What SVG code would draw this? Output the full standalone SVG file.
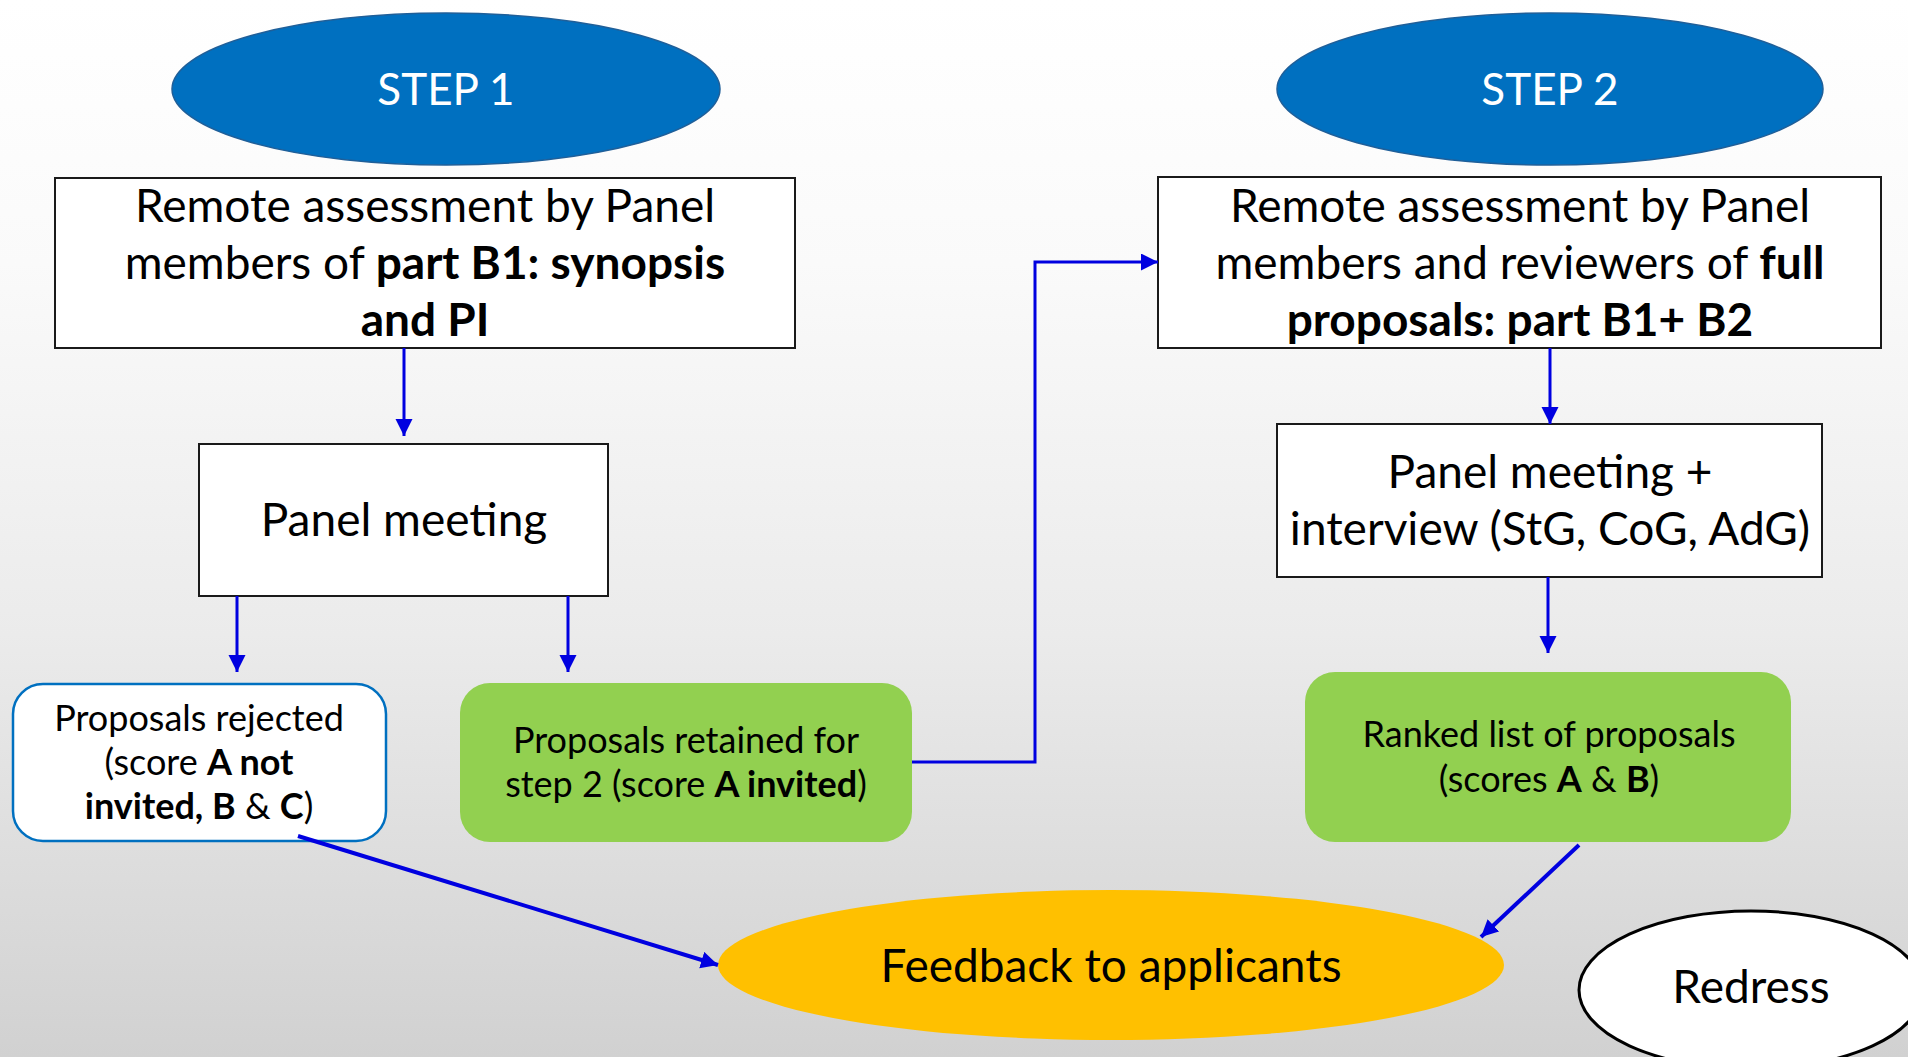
<svg xmlns="http://www.w3.org/2000/svg" width="1908" height="1057" viewBox="0 0 1908 1057">
<defs>
<linearGradient id="bg" x1="0" y1="0" x2="0" y2="1">
<stop offset="0" stop-color="#ffffff"/>
<stop offset="0.25" stop-color="#fafafa"/>
<stop offset="0.6" stop-color="#ebebeb"/>
<stop offset="1" stop-color="#d1d1d1"/>
</linearGradient>
<marker id="ah" markerUnits="userSpaceOnUse" markerWidth="20" markerHeight="20" refX="17" refY="8.5" orient="auto">
<path d="M0,0 L17,8.5 L0,17 Z" fill="#0000E0"/>
</marker>
</defs>
<style>
text{font-family:Lato,"Source Sans Pro","Noto Sans",sans-serif;fill:#000;text-anchor:middle}
.b{font-weight:bold}
.big{font-size:46px}
.sm{font-size:36px}
.step{font-size:44px;fill:#fff}
.box{fill:#fff;stroke:#1a1a1a;stroke-width:2}
.green{fill:#92D050}
.conn{fill:none;stroke:#0000E0;stroke-width:3;marker-end:url(#ah)}
.diag{stroke-width:4}
</style>
<rect x="0" y="0" width="1908" height="1057" fill="url(#bg)"/>

<g id="step1">
<ellipse cx="446" cy="89" rx="274" ry="76" fill="#0070C0" stroke="#1F5F99" stroke-width="1.5"/>
<text class="step" x="446" y="105">STEP 1</text>
</g>
<g id="step2">
<ellipse cx="1550" cy="89" rx="273" ry="76" fill="#0070C0" stroke="#1F5F99" stroke-width="1.5"/>
<text class="step" x="1550" y="105">STEP 2</text>
</g>

<g id="remote1">
<rect class="box" x="55" y="178" width="740" height="170"/>
<text class="big" x="425" y="222">Remote assessment by Panel</text>
<text class="big" x="425" y="279">members of <tspan class="b">part B1: synopsis</tspan></text>
<text class="big b" x="425" y="336">and PI</text>
</g>

<g id="remote2">
<rect class="box" x="1158" y="177" width="723" height="171"/>
<text class="big" x="1520" y="222">Remote assessment by Panel</text>
<text class="big" x="1520" y="279">members and reviewers of <tspan class="b">full</tspan></text>
<text class="big b" x="1520" y="336">proposals: part B1+ B2</text>
</g>

<g id="panel1">
<rect class="box" x="199" y="444" width="409" height="152"/>
<text class="big" x="404" y="536">Panel meeting</text>
</g>

<g id="panel2">
<rect class="box" x="1277" y="424" width="545" height="153"/>
<text class="big" x="1550" y="488">Panel meeting +</text>
<text class="big" x="1550" y="545">interview (StG, CoG, AdG)</text>
</g>

<g id="rejected">
<rect x="13" y="684" width="373" height="157" rx="30" fill="#fff" stroke="#0070C0" stroke-width="2.5"/>
<text class="sm" x="199" y="731">Proposals rejected</text>
<text class="sm" x="199" y="775">(score <tspan class="b">A not</tspan></text>
<text class="sm" x="199" y="819"><tspan class="b">invited, B</tspan> &amp; <tspan class="b">C</tspan>)</text>
</g>

<g id="retained">
<rect class="green" x="460" y="683" width="452" height="159" rx="30"/>
<text class="sm" x="686" y="753">Proposals retained for</text>
<text class="sm" x="686" y="797">step 2 (score <tspan class="b">A invited</tspan>)</text>
</g>

<g id="ranked">
<rect class="green" x="1305" y="672" width="486" height="170" rx="30"/>
<text class="sm" x="1549" y="747">Ranked list of proposals</text>
<text class="sm" x="1549" y="792">(scores <tspan class="b">A</tspan> &amp; <tspan class="b">B</tspan>)</text>
</g>

<g id="feedback">
<ellipse cx="1111" cy="965" rx="393" ry="75" fill="#FFC000"/>
<text x="1111" y="982" style="font-size:46px">Feedback to applicants</text>
</g>

<g id="redress">
<ellipse cx="1751" cy="990" rx="172" ry="79" fill="#fff" stroke="#000" stroke-width="3"/>
<text x="1751" y="1003" style="font-size:46px">Redress</text>
</g>

<g id="connectors">
<path class="conn" d="M404,348 V436"/>
<path class="conn" d="M237,596 V672"/>
<path class="conn" d="M568,596 V672"/>
<path class="conn" d="M912,762 H1035 V262 H1158"/>
<path class="conn" d="M1550,348 V424"/>
<path class="conn" d="M1548,577 V653"/>
<path class="conn diag" d="M298,836 L718,965"/>
<path class="conn diag" d="M1579,845 L1481,937"/>
</g>
</svg>
